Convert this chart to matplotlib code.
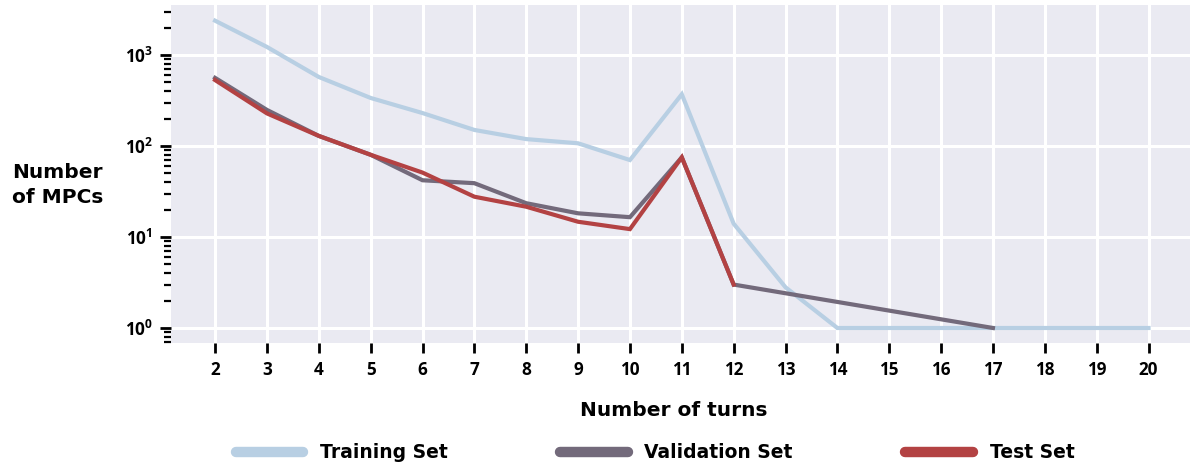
import matplotlib
matplotlib.use("Agg")
import matplotlib.pyplot as plt
from matplotlib.ticker import LogLocator, NullFormatter, FixedLocator

# MPC counts per number of turns
turns_train = [2, 3, 4, 5, 6, 7, 8, 9, 10, 11, 12, 13, 14, 15, 16, 17, 18, 19, 20]
train_counts = [2380, 1225, 573, 337, 230, 150, 119, 107, 70, 370, 14, 2.8, 1, 1, 1, 1, 1, 1, 1]

turns_val = [2, 3, 4, 5, 6, 7, 8, 9, 10, 11, 12, 17]
val_counts = [560, 249, 129, 80, 42, 39, 23.5, 18.2, 16.5, 75, 3, 1]

turns_test = [2, 3, 4, 5, 6, 7, 8, 9, 10, 11, 12]
test_counts = [530, 228, 129, 80, 51, 27.7, 21.5, 14.7, 12.2, 75, 3]

x_ticks = list(range(2, 21))

series_labels = ["Training Set", "Validation Set", "Test Set"]
series_colors = ["#b8cfe3", "#736a7b", "#b34243"]

TICK_FONT = ["Open Sans", "DejaVu Sans"]
LABEL_FONT = ["DejaVu Sans"]
plt.rcParams["font.family"] = TICK_FONT
plt.rcParams["mathtext.fontset"] = "custom"
plt.rcParams["mathtext.rm"] = "Open Sans:bold"
plt.rcParams["mathtext.it"] = "Open Sans:bold"
plt.rcParams["mathtext.bf"] = "Open Sans:bold"
plt.rcParams["mathtext.default"] = "bf"

fig = plt.figure(figsize=(11.9, 4.67), dpi=100)
ax = fig.add_axes([171 / 1190, 1 - 343 / 467, 1 - 171 / 1190, (343 - 5) / 467])
ax.set_facecolor("#eaeaf2")
for s in ax.spines.values():
    s.set_visible(False)

ax.plot(turns_train, train_counts, color=series_colors[0], lw=3.0, label=series_labels[0],
        solid_joinstyle="miter", zorder=3)
ax.plot(turns_val, val_counts, color=series_colors[1], lw=3.0, label=series_labels[1],
        solid_joinstyle="miter", zorder=4)
ax.plot(turns_test, test_counts, color=series_colors[2], lw=3.0, label=series_labels[2],
        solid_joinstyle="miter", zorder=5)

ax.set_yscale("log")
ax.set_ylim(0.684, 3540)
ax.set_xlim(1.15, 20.8)
ax.xaxis.set_major_locator(FixedLocator(x_ticks))
ax.set_xticklabels([str(t) for t in x_ticks])
ax.yaxis.set_major_locator(LogLocator(base=10, numticks=10))
ax.yaxis.set_minor_locator(LogLocator(base=10, subs=[2, 3, 4, 5, 6, 7, 8, 9], numticks=20))
ax.yaxis.set_minor_formatter(NullFormatter())

ax.grid(True, which="major", color="white", lw=2.2, zorder=0)
ax.set_axisbelow(True)

ax.tick_params(axis="both", which="major", color="black", width=2.0, length=8,
               labelsize=12.3, pad=5)
ax.tick_params(axis="x", which="major", length=7, pad=6)
ax.tick_params(axis="y", which="minor", color="black", width=1.6, length=5)
for lab in ax.get_xticklabels() + ax.get_yticklabels():
    lab.set_fontweight("bold")

ax.set_xlabel("Number of turns", fontsize=14.5, fontweight="bold", family=LABEL_FONT)
ax.xaxis.set_label_coords(0.493, -0.172)
fig.text(12 / 1190, 1 - 185 / 467, "Number\nof MPCs", ha="left", va="center",
         fontsize=14.5, fontweight="bold", linespacing=1.35, family=LABEL_FONT)

handles, labels = ax.get_legend_handles_labels()
leg = fig.legend(handles, labels, loc="center", bbox_to_anchor=(655 / 1190, 1 - 453 / 467),
                 ncol=3, frameon=False,
                 prop={"weight": "bold", "size": 13.5, "family": LABEL_FONT},
                 handlelength=3.6, handletextpad=0.9, columnspacing=6.0)
for line in leg.get_lines():
    line.set_linewidth(7.5)
    line.set_solid_capstyle("round")

fig.savefig("out.png", dpi=100)
